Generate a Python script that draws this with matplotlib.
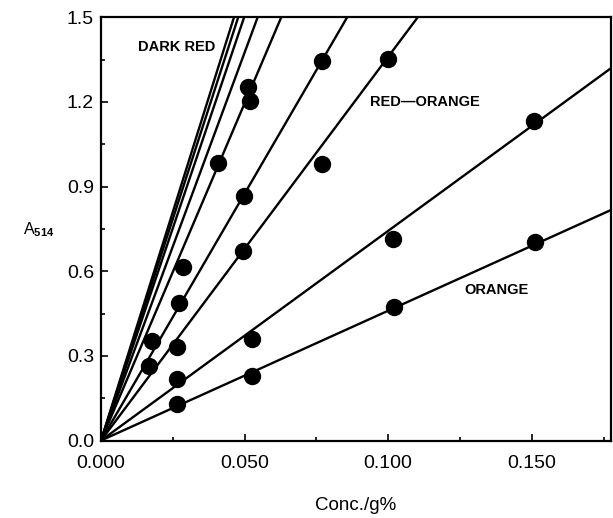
import numpy as np
import matplotlib
matplotlib.use("Agg")
import matplotlib.pyplot as plt

plt.rcParams['font.family'] = ['Liberation Sans', 'DejaVu Sans']
plt.rcParams['mathtext.fontset'] = 'custom'
plt.rcParams['mathtext.rm'] = 'Liberation Sans'
plt.rcParams['mathtext.bf'] = 'Liberation Sans:bold'

# Fitted line slopes (absorbance per g%), all through origin
line_slopes = [32.4, 31.4, 30.1, 27.5, 23.9, 17.5, 13.6, 7.43, 4.6]

# Measured points
conc = [0.0264, 0.0527, 0.1021, 0.1512,
        0.0266, 0.0527, 0.1018, 0.1508,
        0.0266, 0.0496, 0.0771, 0.0999,
        0.0272, 0.0499, 0.0771,
        0.0167, 0.0177, 0.0287, 0.0409, 0.0519, 0.0513]
absorb = [0.129, 0.230, 0.472, 0.705,
          0.218, 0.360, 0.713, 1.133,
          0.330, 0.673, 0.980, 1.352,
          0.486, 0.866, 1.346,
          0.265, 0.354, 0.616, 0.985, 1.205, 1.252]

x_ticks = [0.0, 0.05, 0.10, 0.15]
x_ticklabels = ['0.000', '0.050', '0.100', '0.150']
y_ticks = [0.0, 0.3, 0.6, 0.9, 1.2, 1.5]
y_ticklabels = ['0.0', '0.3', '0.6', '0.9', '1.2', '1.5']

fig = plt.figure(figsize=(6.13, 5.18), dpi=100)
ax = fig.add_axes([0.1648, 0.1496, 0.8319, 0.817])

xmax = 0.1776
xx = np.array([0.0, xmax])
for s in line_slopes:
    ax.plot(xx, s * xx, color='black', lw=1.7, solid_capstyle='butt')

ax.plot(conc, absorb, 'o', color='black', markersize=11.5, zorder=3)

ax.set_xlim(0, xmax)
ax.set_ylim(0, 1.5)
ax.set_xticks(x_ticks)
ax.set_xticklabels(x_ticklabels)
ax.set_yticks(y_ticks)
ax.set_yticklabels(y_ticklabels)
ax.set_xticks([0.025, 0.075, 0.125, 0.175], minor=True)
ax.set_yticks([0.15, 0.45, 0.75, 1.05, 1.35], minor=True)
ax.tick_params(which='both', direction='in', width=1.2)
ax.tick_params(which='major', length=5, labelsize=14)
ax.tick_params(which='minor', length=3)
ax.tick_params(axis='x', pad=10.5)
ax.tick_params(axis='y', pad=5)
for sp in ax.spines.values():
    sp.set_linewidth(1.6)

ax.set_xlabel('Conc./g%', fontsize=13.5, labelpad=18)
ax.set_ylabel(r'A$_{\mathbf{514}}$', fontsize=11.5, rotation=0)
ax.yaxis.set_label_coords(-0.123, 0.476)

lab_font = dict(fontsize=10.5, fontweight='bold', family=['Liberation Sans Narrow', 'Liberation Sans'],
                ha='center', va='center')
ax.text(0.0265, 1.394, 'DARK RED', **lab_font)
ax.text(0.1128, 1.201, 'RED\u2014ORANGE', **lab_font)
ax.text(0.1378, 0.533, 'ORANGE', **lab_font)

fig.savefig('out.png', dpi=100)
